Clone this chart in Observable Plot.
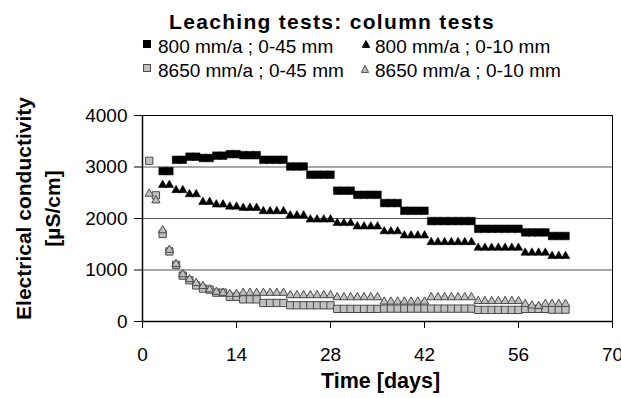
<!DOCTYPE html>
<html><head><meta charset="utf-8">
<script src="https://cdn.jsdelivr.net/npm/d3@7"></script>
<script src="https://cdn.jsdelivr.net/npm/@observablehq/plot@0.6"></script>
<style>
html,body{margin:0;padding:0;background:#fff;overflow:hidden;}
#wrap{position:relative;width:621px;height:398px;font-family:Arial,"Liberation Sans",sans-serif;color:#000;}
#wrap .abs{position:absolute;line-height:1;white-space:nowrap;}
#title{font-weight:bold;font-size:21px;letter-spacing:1.3px;left:0;width:664px;text-align:center;top:11px;}
.leg{font-size:19px;}
</style>
</head><body>
<div id="wrap"></div>
<script>
// ---- data ----
const title = "Leaching tests: column tests";
const seriesNames = ["800 mm/a ; 0-45 mm", "800 mm/a ; 0-10 mm", "8650 mm/a ; 0-45 mm", "8650 mm/a ; 0-10 mm"];
const daysBlack = [3,4,5,6,7,8,9,10,11,12,13,14,15,16,17,18,19,20,21,22,23,24,25,26,27,28,29,30,31,32,33,34,35,36,37,38,39,40,41,42,43,44,45,46,47,48,49,50,51,52,53,54,55,56,57,58,59,60,61,62,63];
const daysGray = [1,2,3,4,5,6,7,8,9,10,11,12,13,14,15,16,17,18,19,20,21,22,23,24,25,26,27,28,29,30,31,32,33,34,35,36,37,38,39,40,41,42,43,44,45,46,47,48,49,50,51,52,53,54,55,56,57,58,59,60,61,62,63];
const ec800_45 = [2920,2920,3140,3140,3200,3200,3175,3175,3220,3220,3250,3250,3230,3230,3230,3140,3140,3140,3140,3010,3010,3010,2850,2850,2850,2850,2540,2540,2540,2460,2460,2460,2460,2300,2300,2300,2150,2150,2150,2150,1950,1950,1950,1950,1950,1950,1950,1800,1800,1800,1800,1800,1800,1800,1730,1730,1730,1730,1660,1660,1660];
const ec800_10 = [2650,2650,2550,2550,2470,2470,2320,2320,2270,2270,2230,2230,2205,2205,2205,2140,2140,2140,2140,2060,2060,2060,1980,1980,1980,1980,1910,1910,1910,1845,1845,1845,1845,1750,1750,1750,1670,1670,1670,1670,1540,1540,1540,1540,1540,1540,1540,1430,1430,1430,1430,1430,1430,1430,1335,1335,1335,1335,1270,1270,1270];
const ec8650_45 = [3120,2450,1700,1360,1100,890,800,700,640,620,560,560,480,480,430,430,430,360,360,360,360,315,315,315,315,315,315,315,245,245,245,245,245,245,245,250,250,250,250,250,250,250,250,250,250,250,250,250,250,225,225,225,225,225,225,225,245,245,245,245,230,230,230];
const ec8650_10 = [2480,2350,1770,1390,1115,915,820,745,685,620,575,555,535,535,555,555,555,555,555,555,555,510,510,510,510,510,510,510,470,470,470,470,470,470,470,385,385,385,385,385,385,385,470,470,470,470,470,470,470,395,395,395,395,395,395,395,340,310,300,340,340,340,340];
const xTicks = [0,14,28,42,56,70];
const yTicks = [0,1000,2000,3000,4000];
const gridValues = [1000,2000,3000];
const xLabel = "Time [days]";
const yLabel = "Electrical conductivity\n[µS/cm]";

const toRows = (days, vals) => days.map((d, i) => ({day: d, ec: vals[i]}));
const s1 = toRows(daysBlack, ec800_45);
const s2 = toRows(daysBlack, ec800_10);
const s3 = toRows(daysGray, ec8650_45);
const s4 = toRows(daysGray, ec8650_10);

const GRAY = "#c0c0c0", OUT = "#4a4a4a";

const chart = Plot.plot({
  width: 621, height: 398,
  marginLeft: 142, marginRight: 9, marginTop: 115, marginBottom: 77,
  style: {fontFamily: 'Arial, "Liberation Sans", sans-serif', background: "white", overflow: "visible"},
  x: {domain: [0, 70]},
  y: {domain: [0, 4000]},
  marks: [
    Plot.ruleY(gridValues, {stroke: "#555", strokeWidth: 1}),
    Plot.frame({stroke: "#000", strokeWidth: 1}),
    Plot.axisY({ticks: yTicks, tickSize: 8, tickPadding: 7, fontSize: 19, label: null, tickFormat: d => String(d)}),
    Plot.axisX({ticks: xTicks, tickSize: 7, tickPadding: 19, fontSize: 19, label: null, tickFormat: d => String(d)}),
    Plot.ruleX([0], {stroke: "#000", strokeWidth: 1.5}),
    Plot.ruleY([0], {stroke: "#000", strokeWidth: 1.5}),
    Plot.dot(s1, {x: "day", y: "ec", symbol: "square", r: 4.3, fill: "#000", stroke: "#000", strokeWidth: 0.5}),
    Plot.dot(s2, {x: "day", y: "ec", symbol: "triangle", r: 3.2, fill: "#000", stroke: "#000", strokeWidth: 0.5}),
    Plot.dot(s3, {x: "day", y: "ec", symbol: "square", r: 4.1, fill: GRAY, stroke: OUT, strokeWidth: 1}),
    Plot.dot(s4, {x: "day", y: "ec", symbol: "triangle", r: 3.1, fill: GRAY, stroke: OUT, strokeWidth: 1}),
    Plot.text([xLabel], {frameAnchor: "bottom", dy: 60, fontWeight: "bold", fontSize: 21.5, lineAnchor: "middle", textAnchor: "middle", dx: 3}),
    Plot.text([yLabel], {frameAnchor: "left", rotate: -90, dx: -106, dy: -10, fontWeight: "bold", fontSize: 21, lineHeight: 1.35, lineAnchor: "middle", textAnchor: "middle"})
  ]
});
chart.style.position = "absolute";
chart.style.left = "0px";
chart.style.top = "0px";
const wrap = document.getElementById("wrap");
wrap.appendChild(chart);

// ---- title & legend (HTML over the top margin) ----
const t = document.createElement("div");
t.id = "title"; t.className = "abs"; t.textContent = title;
wrap.appendChild(t);

const legendItems = [
  {name: seriesNames[0], shape: "square", fill: "#000", stroke: "#000", mx: 143, my: 40, tx: 158, ty: 37},
  {name: seriesNames[1], shape: "triangle", fill: "#000", stroke: "#000", mx: 362, my: 40, tx: 375, ty: 37},
  {name: seriesNames[2], shape: "square", fill: GRAY, stroke: OUT, mx: 143, my: 64, tx: 158, ty: 61},
  {name: seriesNames[3], shape: "triangle", fill: GRAY, stroke: OUT, mx: 361, my: 65, tx: 375, ty: 61}
];
for (const it of legendItems) {
  const ns = "http://www.w3.org/2000/svg";
  const svg = document.createElementNS(ns, "svg");
  svg.setAttribute("width", 9); svg.setAttribute("height", 9);
  svg.style.left = it.mx + "px"; svg.style.top = it.my + "px";
  svg.style.position = "absolute";
  let el;
  if (it.shape === "square") {
    el = document.createElementNS(ns, "rect");
    el.setAttribute("x", 0.5); el.setAttribute("y", 0.5); el.setAttribute("width", 7); el.setAttribute("height", 7);
  } else {
    el = document.createElementNS(ns, "path");
    el.setAttribute("d", "M4,0.6L7.6,7.4L0.4,7.4Z");
  }
  el.setAttribute("fill", it.fill); el.setAttribute("stroke", it.stroke); el.setAttribute("stroke-width", 1);
  svg.appendChild(el);
  wrap.appendChild(svg);
  const sp = document.createElement("div");
  sp.className = "abs leg";
  sp.style.left = it.tx + "px"; sp.style.top = it.ty + "px";
  sp.textContent = it.name;
  wrap.appendChild(sp);
}
</script>
</body></html>
